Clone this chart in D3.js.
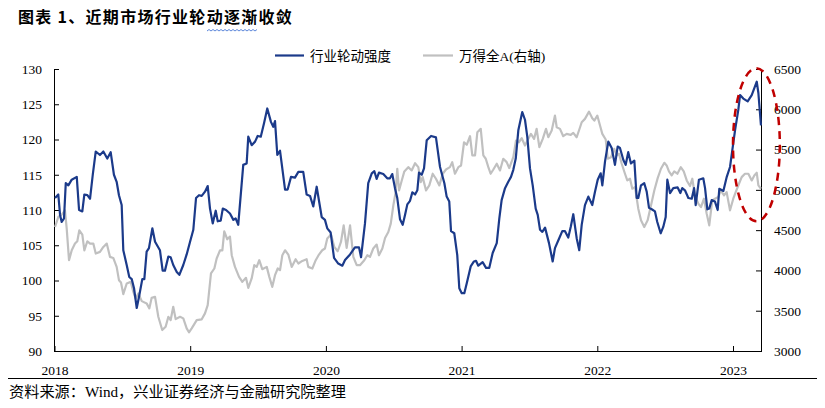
<!DOCTYPE html>
<html><head><meta charset="utf-8">
<script src="https://cdn.jsdelivr.net/npm/d3@7"></script>
<style>body{margin:0;background:#fff}svg{display:block}</style>
</head><body>
<svg id="c" width="825" height="408"></svg>
<script>
const title = "图表 1、近期市场行业轮动逐渐收敛";
const source = "资料来源：Wind，兴业证券经济与金融研究院整理";
const seriesNames = ["行业轮动强度", "万得全A(右轴)"];
const yearTicks = [2018, 2019, 2020, 2021, 2022, 2023];
const leftTicks = [90, 95, 100, 105, 110, 115, 120, 125, 130];
const rightTicks = [3000, 3500, 4000, 4500, 5000, 5500, 6000, 6500];

// 行业轮动强度 (left axis), time in decimal years
const rotationT = [2018.004,2018.028,2018.041,2018.053,2018.070,2018.083,2018.102,2018.127,2018.164,2018.181,2018.205,2018.220,2018.242,2018.262,2018.282,2018.304,2018.335,2018.360,2018.389,2018.414,2018.438,2018.458,2018.475,2018.495,2018.507,2018.532,2018.551,2018.569,2018.586,2018.606,2018.625,2018.647,2018.662,2018.679,2018.696,2018.721,2018.741,2018.777,2018.797,2018.814,2018.839,2018.856,2018.875,2018.901,2018.920,2018.949,2018.974,2018.999,
2019.023,2019.043,2019.065,2019.085,2019.109,2019.129,2019.146,2019.166,2019.188,2019.203,2019.225,2019.240,2019.264,2019.293,2019.318,2019.335,2019.354,2019.391,2019.416,2019.428,2019.453,2019.478,2019.497,2019.520,2019.544,2019.568,2019.595,2019.612,2019.625,2019.642,2019.662,2019.699,2019.718,2019.743,2019.772,2019.797,2019.833,2019.858,2019.883,2019.907,2019.932,2019.969,2019.993,
2020.010,2020.035,2020.060,2020.091,2020.121,2020.141,2020.178,2020.214,2020.244,2020.259,2020.288,2020.312,2020.338,2020.357,2020.374,2020.391,2020.423,2020.452,2020.472,2020.489,2020.509,2020.526,2020.546,2020.566,2020.583,2020.600,2020.620,2020.637,2020.657,2020.674,2020.686,2020.706,2020.723,2020.743,2020.775,2020.811,2020.841,2020.873,2020.890,2020.909,2020.922,2020.946,2020.968,2020.983,
2021.001,2021.020,2021.038,2021.067,2021.091,2021.106,2021.123,2021.155,2021.180,2021.204,2021.229,2021.259,2021.278,2021.295,2021.320,2021.344,2021.364,2021.381,2021.399,2021.418,2021.447,2021.467,2021.484,2021.504,2021.524,2021.546,2021.561,2021.578,2021.595,2021.615,2021.644,2021.671,2021.688,2021.713,2021.742,2021.762,2021.786,2021.804,2021.823,2021.848,2021.867,2021.885,2021.909,2021.934,2021.963,2021.983,
2022.003,2022.025,2022.037,2022.057,2022.081,2022.106,2022.130,2022.150,2022.167,2022.192,2022.209,2022.228,2022.248,2022.273,2022.290,2022.302,2022.322,2022.346,2022.364,2022.381,2022.401,2022.425,2022.442,2022.467,2022.486,2022.504,2022.516,2022.536,2022.560,2022.592,2022.612,2022.626,2022.646,2022.671,2022.696,2022.713,2022.725,2022.749,2022.781,2022.794,2022.811,2022.825,2022.843,2022.867,2022.887,2022.899,2022.929,2022.954,2022.978,2022.995,
2023.015,2023.039,2023.052,2023.076,2023.108,2023.138,2023.175,2023.187,2023.206];
const rotationV = [111.7,112.2,109.3,108.3,108.8,113.8,113.5,114.3,114.7,110.0,109.8,112.2,112.1,111.6,115.0,118.3,117.8,118.3,117.3,118.2,115.0,114.0,112.1,110.7,104.3,102.2,100.5,100.2,98.9,96.1,97.9,100.2,100.2,104.1,104.6,107.4,105.5,104.3,101.4,101.4,103.4,103.3,102.2,101.2,100.8,102.2,103.7,105.5,
107.2,111.7,112.1,112.0,112.6,113.4,110.2,108.1,109.9,108.4,108.5,110.2,110.0,109.5,108.6,108.8,107.9,116.4,116.6,120.4,119.2,119.7,120.5,120.4,122.3,124.4,122.5,121.8,122.6,117.8,118.4,112.9,112.9,114.7,114.6,115.4,115.4,112.2,112.0,110.5,113.3,109.0,108.6,
107.4,106.8,103.2,102.4,102.1,102.9,103.7,104.7,104.7,103.3,108.1,113.8,115.2,115.5,114.4,115.3,115.1,114.5,114.5,115.1,113.1,111.7,108.7,107.9,109.3,110.8,111.3,112.5,112.2,112.8,115.3,115.0,115.9,119.9,120.5,120.3,116.1,113.8,111.9,111.2,107.0,106.7,103.6,98.9,
98.2,98.2,99.6,102.0,102.7,102.8,102.1,102.6,101.8,101.8,103.9,105.3,108.8,111.4,113.1,114.0,114.7,115.7,117.3,121.3,123.9,122.8,120.4,115.9,113.5,110.2,109.3,107.2,106.9,107.5,105.3,102.7,104.6,105.7,107.0,107.0,106.1,107.6,109.4,106.0,104.3,107.9,110.7,111.9,110.7,112.6,
114.3,115.2,113.5,116.9,119.7,118.8,116.4,119.0,118.8,117.1,116.4,118.2,116.6,117.0,111.7,111.7,113.5,113.8,112.6,110.3,110.1,109.8,108.3,106.7,107.6,109.0,114.3,112.4,113.1,113.2,112.4,113.1,112.8,111.7,111.6,113.1,110.7,114.3,114.5,113.1,110.1,110.2,111.4,111.2,110.0,113.0,112.7,114.7,116.1,118.5,
121.3,124.2,126.3,125.8,125.4,126.3,128.2,126.6,122.0];

// 万得全A (right axis)
const indexT = [2018.004,2018.028,2018.053,2018.077,2018.090,2018.107,2018.127,2018.151,2018.168,2018.183,2018.205,2018.220,2018.242,2018.262,2018.286,2018.304,2018.335,2018.360,2018.385,2018.409,2018.433,2018.458,2018.475,2018.490,2018.507,2018.532,2018.562,2018.581,2018.598,2018.618,2018.643,2018.679,2018.699,2018.716,2018.741,2018.765,2018.794,2018.819,2018.839,2018.856,2018.875,2018.893,2018.925,2018.949,2018.974,2018.991,
2019.011,2019.048,2019.085,2019.109,2019.129,2019.153,2019.178,2019.195,2019.220,2019.237,2019.251,2019.273,2019.293,2019.306,2019.330,2019.360,2019.384,2019.411,2019.428,2019.453,2019.472,2019.490,2019.509,2019.531,2019.564,2019.583,2019.605,2019.625,2019.645,2019.662,2019.679,2019.699,2019.723,2019.748,2019.777,2019.797,2019.826,2019.858,2019.870,2019.900,2019.925,2019.949,2019.973,2019.993,
2020.010,2020.038,2020.062,2020.087,2020.111,2020.131,2020.153,2020.178,2020.202,2020.227,2020.251,2020.283,2020.305,2020.325,2020.349,2020.374,2020.391,2020.416,2020.436,2020.460,2020.478,2020.497,2020.514,2020.526,2020.539,2020.559,2020.578,2020.607,2020.632,2020.657,2020.681,2020.699,2020.713,2020.738,2020.762,2020.787,2020.811,2020.836,2020.861,2020.885,2020.914,2020.931,2020.951,2020.976,2020.996,
2021.018,2021.038,2021.062,2021.079,2021.099,2021.116,2021.141,2021.160,2021.178,2021.197,2021.214,2021.234,2021.259,2021.283,2021.307,2021.332,2021.351,2021.381,2021.401,2021.423,2021.443,2021.467,2021.492,2021.511,2021.534,2021.553,2021.573,2021.598,2021.622,2021.639,2021.664,2021.688,2021.701,2021.725,2021.749,2021.774,2021.804,2021.823,2021.848,2021.873,2021.885,2021.909,2021.939,2021.963,2021.978,
2022.000,2022.020,2022.037,2022.062,2022.077,2022.101,2022.125,2022.143,2022.160,2022.180,2022.204,2022.221,2022.241,2022.258,2022.278,2022.302,2022.322,2022.346,2022.371,2022.396,2022.420,2022.445,2022.469,2022.494,2022.511,2022.528,2022.548,2022.567,2022.590,2022.615,2022.637,2022.659,2022.683,2022.700,2022.720,2022.744,2022.764,2022.786,2022.806,2022.825,2022.847,2022.867,2022.892,2022.909,2022.934,2022.953,2022.978,
2023.002,2023.020,2023.044,2023.064,2023.088,2023.113,2023.138,2023.157,2023.175,2023.187,2023.206];
const indexV = [4539,4663,4693,4746,4519,4127,4250,4333,4362,4498,4445,4250,4362,4333,4333,4210,4230,4291,4333,4168,4155,4044,3879,3851,3706,3838,3858,3734,3653,3714,3619,3591,3529,3660,3672,3425,3260,3301,3425,3384,3549,3396,3425,3405,3281,3232,
3281,3384,3393,3467,3570,3962,4024,4148,4250,4250,4486,4387,4420,4189,4044,3920,3858,3908,3784,3900,4065,4044,4127,4015,4044,3920,3796,3941,4024,4003,4189,4250,4197,4044,4139,4086,4118,4139,4044,4024,4127,4197,4250,4272,
4395,4445,4291,4238,4353,4560,4279,4560,4168,4065,4065,4127,4189,4168,4272,4321,4189,4272,4403,4477,4581,4808,4972,5262,4993,5117,5229,5282,5241,5331,5282,5096,5158,4993,5055,5200,5138,5055,5200,5253,5282,5344,5200,5282,5303,
5591,5559,5666,5427,5427,5715,5757,5427,5386,5282,5200,5253,5324,5241,5386,5344,5270,5406,5612,5591,5641,5550,5633,5695,5633,5757,5530,5633,5757,5653,5736,5922,5777,5757,5666,5695,5683,5708,5653,5777,5839,5881,5971,5888,5860,
5922,5798,5695,5625,5386,5406,5510,5427,5448,5324,5200,5117,5138,5014,5034,4767,4622,4539,4622,4808,4993,5146,5262,5336,5303,5229,5179,5229,5200,5282,5229,5117,5047,5138,4931,4829,4787,4890,4705,4560,4870,4890,4911,4993,4931,4972,4746,
4890,4972,5076,5158,5200,5200,5117,5179,5212,5055,5014];

// highlighted region (dashed ellipse), in data units of time / left axis
const highlightT = [2023.0, 2023.345];
const highlightV = [108.4, 130.1];

const colors = {rotation: "#1b3a8a", index: "#c0c0c0", highlight: "#c00000"};
const serif = "'Liberation Serif','Noto Sans CJK SC',serif";
const cjk = "'Noto Sans CJK SC','Liberation Serif',sans-serif";

const svg = d3.select("#c");
const x = d3.scaleLinear().domain([2018, 2023.210]).range([54.5, 761.5]);
const yL = d3.scaleLinear().domain([90, 130]).range([351, 69]);
const yR = d3.scaleLinear().domain([3000, 6500]).range([351, 69]);

// Title
svg.append("text").attr("x", 18).attr("y", 22.5)
  .attr("font-family", cjk).attr("font-weight", 700).attr("font-size", 16)
  .attr("letter-spacing", 1.3).attr("fill", "#000").text(title);
// spell-check squiggle under title
(function(){
  let p = "M207,31"; for (let i = 207; i < 256; i += 2) p += "L" + (i + 2) + "," + (((i - 207) / 2) % 2 === 0 ? 29.5 : 31);
  svg.append("path").attr("d", p).attr("fill", "none").attr("stroke", "#4a78d6").attr("stroke-width", 0.9);
})();

// Axes
const axL = svg.append("g").attr("transform", "translate(54,0)")
  .call(d3.axisLeft(yL).tickValues(leftTicks).tickFormat(d3.format("d")).tickSize(-5).tickSizeOuter(0).tickPadding(12));
const axR = svg.append("g").attr("transform", "translate(761,0)")
  .call(d3.axisRight(yR).tickValues(rightTicks).tickFormat(d3.format("d")).tickSize(-5).tickSizeOuter(0).tickPadding(13));
const axB = svg.append("g").attr("transform", "translate(0,351)")
  .call(d3.axisBottom(x).tickValues(yearTicks).tickFormat(d3.format("d")).tickSize(-5).tickSizeOuter(0).tickPadding(14));
[axL, axR, axB].forEach(g => {
  g.selectAll("text").attr("font-family", serif).attr("font-size", 13.5).attr("fill", "#000");
  g.selectAll("line,path").attr("stroke", "#000");
});

// Lines
const idxData = d3.zip(indexT, indexV);
const rotData = d3.zip(rotationT, rotationV);
svg.append("path").datum(idxData)
  .attr("d", d3.line().x(d => x(d[0])).y(d => yR(d[1])))
  .attr("fill", "none").attr("stroke", colors.index).attr("stroke-width", 2.2).attr("stroke-linejoin", "round");
svg.append("path").datum(rotData)
  .attr("d", d3.line().x(d => x(d[0])).y(d => yL(d[1])))
  .attr("fill", "none").attr("stroke", colors.rotation).attr("stroke-width", 2.2).attr("stroke-linejoin", "round");

// Highlight ellipse
const ex0 = x(highlightT[0]), ex1 = x(highlightT[1]);
const ey0 = yL(highlightV[1]), ey1 = yL(highlightV[0]);
svg.append("ellipse").attr("cx", (ex0 + ex1) / 2).attr("cy", (ey0 + ey1) / 2)
  .attr("rx", (ex1 - ex0) / 2).attr("ry", (ey1 - ey0) / 2)
  .attr("fill", "none").attr("stroke", colors.highlight).attr("stroke-width", 2.5)
  .attr("stroke-dasharray", "8,6");

// Legend
const legend = [
  {name: seriesNames[0], color: colors.rotation, x0: 275, x1: 304, tx: 310},
  {name: seriesNames[1], color: colors.index, x0: 423, x1: 453, tx: 459}
];
legend.forEach(l => {
  svg.append("line").attr("x1", l.x0).attr("x2", l.x1).attr("y1", 55.5).attr("y2", 55.5)
    .attr("stroke", l.color).attr("stroke-width", 2.2);
  svg.append("text").attr("x", l.tx).attr("y", 56.5).attr("dominant-baseline", "central")
    .attr("font-family", serif).attr("font-size", 13.5).attr("fill", "#000").text(l.name);
});

// Bottom rule and source
svg.append("line").attr("x1", 8).attr("x2", 817).attr("y1", 378.5).attr("y2", 378.5)
  .attr("stroke", "#000").attr("stroke-width", 1);
svg.append("text").attr("x", 9).attr("y", 391).attr("dominant-baseline", "central")
  .attr("font-family", serif).attr("font-size", 15.2).attr("fill", "#000").text(source);
</script>
</body></html>
